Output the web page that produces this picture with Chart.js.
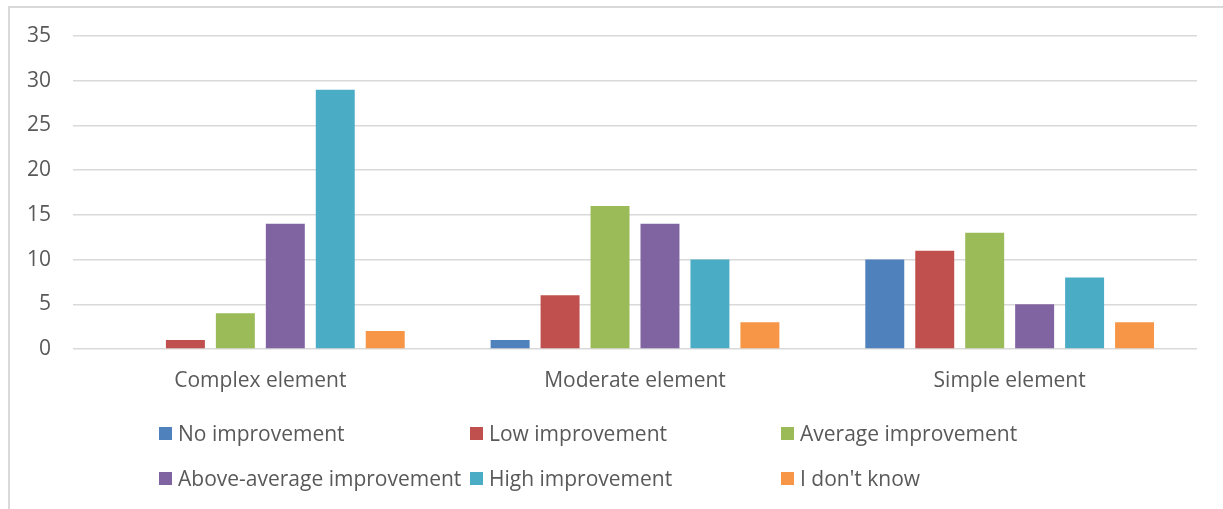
<!DOCTYPE html>
<html>
<head>
<meta charset="utf-8">
<script src="https://cdn.jsdelivr.net/npm/chart.js@4/dist/chart.umd.min.js"></script>
<style>
  html, body { margin: 0; padding: 0; background: #fff; }
  #wrap { position: relative; width: 1223px; height: 509px; }
</style>
</head>
<body>
<div id="wrap"><canvas id="improvementChart"></canvas></div>
<script>
// categories and series
var categories = ['Complex element', 'Moderate element', 'Simple element'];
var noImprovement = [0, 1, 10];
var lowImprovement = [1, 6, 11];
var averageImprovement = [4, 16, 13];
var aboveAverageImprovement = [14, 14, 5];
var highImprovement = [29, 10, 8];
var dontKnow = [2, 3, 3];
var yTicks = [0, 5, 10, 15, 20, 25, 30, 35];

var textColor = '#595959';
var gridColor = '#d9d9d9';
var fontFamily = '"Open Sans", "Noto Sans", sans-serif';
var fontSize = 21;

// frame around the chart (top and left edges visible)
var framePlugin = {
    id: 'frame',
    beforeDraw: function (chart) {
        var c = chart.ctx;
        c.save();
        c.fillStyle = '#fff';
        c.fillRect(0, 0, chart.width, chart.height);
        c.strokeStyle = gridColor;
        c.lineWidth = 2;
        c.beginPath();
        c.moveTo(9, chart.height);
        c.lineTo(9, 7);
        c.lineTo(chart.width, 7);
        c.stroke();
        c.restore();
    }
};

// legend laid out as a 3-column grid
var gridLegend = {
    id: 'gridLegend',
    afterDraw: function (chart) {
        var c = chart.ctx;
        var cols = [159, 470, 781];
        var rows = [434, 479];
        c.save();
        c.font = fontSize + 'px ' + fontFamily;
        c.textBaseline = 'middle';
        c.textAlign = 'left';
        chart.data.datasets.forEach(function (ds, i) {
            var x = cols[i % 3];
            var y = rows[Math.floor(i / 3)];
            c.fillStyle = ds.backgroundColor;
            c.fillRect(x, y - 7, 13, 13);
            c.fillStyle = textColor;
            c.fillText(ds.label, x + 19, y + 1);
        });
        c.restore();
    }
};

var ctx = document.getElementById('improvementChart').getContext('2d');
var improvementChart = new Chart(ctx, {
    type: 'bar',
    data: {
        labels: categories,
        datasets: [
            { label: 'No improvement', data: noImprovement, backgroundColor: '#4F81BD' },
            { label: 'Low improvement', data: lowImprovement, backgroundColor: '#C0504D' },
            { label: 'Average improvement', data: averageImprovement, backgroundColor: '#9BBB59' },
            { label: 'Above-average improvement', data: aboveAverageImprovement, backgroundColor: '#8064A2' },
            { label: 'High improvement', data: highImprovement, backgroundColor: '#4BACC6' },
            { label: "I don't know", data: dontKnow, backgroundColor: '#F79646' }
        ]
    },
    options: {
        responsive: true,
        maintainAspectRatio: false,
        animation: false,
        datasets: {
            bar: {
                categoryPercentage: 0.8,
                barPercentage: 0.78,
                borderWidth: 0
            }
        },
        layout: {
            padding: { top: 36, left: 8, right: 26, bottom: 0 }
        },
        scales: {
            x: {
                grid: { display: false, drawTicks: false },
                border: { display: false },
                ticks: {
                    color: textColor,
                    font: { family: fontFamily, size: fontSize },
                    padding: 19,
                    maxRotation: 0
                },
                afterFit: function (scale) { scale.height = 160; }
            },
            y: {
                min: 0,
                max: 35,
                afterBuildTicks: function (scale) {
                    scale.ticks = yTicks.map(function (v) { return { value: v }; });
                },
                grid: { color: gridColor, lineWidth: 1.5, drawTicks: false },
                border: { display: false },
                ticks: {
                    color: textColor,
                    font: { family: fontFamily, size: fontSize },
                    padding: 22
                },
                afterFit: function (scale) { scale.width = 65; }
            }
        },
        plugins: {
            legend: { display: false },
            tooltip: { enabled: false }
        }
    },
    plugins: [framePlugin, gridLegend]
});
</script>
</body>
</html>
